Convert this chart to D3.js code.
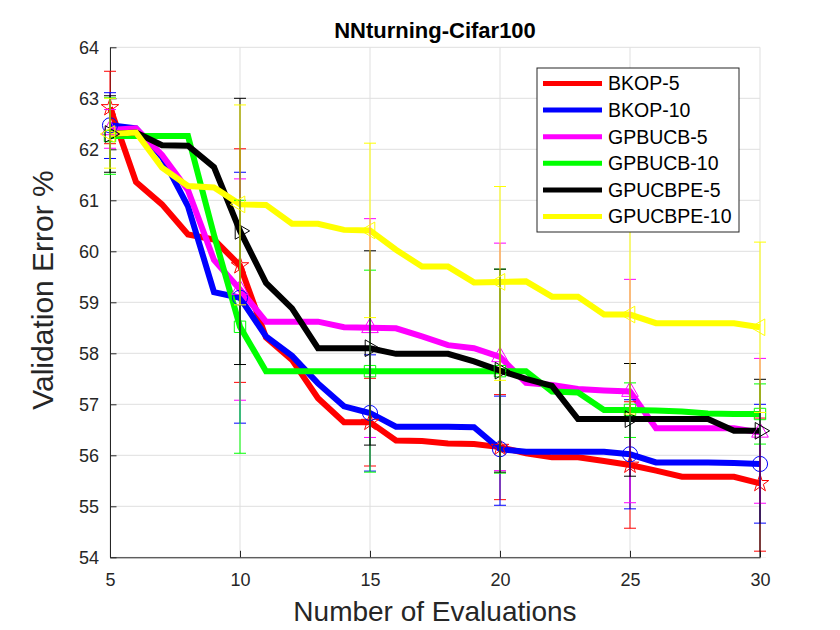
<!DOCTYPE html>
<html><head><meta charset="utf-8">
<script src="https://cdn.jsdelivr.net/npm/d3@7"></script>
<style>body{margin:0;background:#fff} svg{display:block} text{font-family:"Liberation Sans",Arial,Helvetica,sans-serif}</style>
</head><body><svg id="c" width="840" height="630"></svg>
<script>
// ---- data ----
const evals = [5,6,7,8,9,10,11,12,13,14,15,16,17,18,19,20,21,22,23,24,25,26,27,28,29,30];
const markerEvals = [5,10,15,20,25,30];
const xTicks = [5,10,15,20,25,30];
const yTicks = [54,55,56,57,58,59,60,61,62,63,64];
const seriesNames = ["BKOP-5","BKOP-10","GPBUCB-5","GPBUCB-10","GPUCBPE-5","GPUCBPE-10"];
const seriesColors = ["#ff0000","#0000ff","#ff00ff","#00ff00","#000000","#ffff00"];
const seriesMarkers = ["star","circle","triUp","square","triRight","triLeft"];

const bkop5 = [62.82,61.36,60.92,60.33,60.23,59.72,58.31,57.87,57.12,56.65,56.65,56.29,56.28,56.23,56.22,56.16,56.04,55.96,55.96,55.89,55.81,55.70,55.58,55.58,55.58,55.45];
const bkop10 = [62.47,62.41,61.85,60.88,59.20,59.09,58.33,57.95,57.41,56.96,56.83,56.56,56.56,56.56,56.55,56.12,56.07,56.07,56.07,56.07,56.02,55.86,55.86,55.86,55.85,55.83];
const gpbucb5 = [62.38,62.41,61.89,61.20,59.83,59.25,58.62,58.62,58.62,58.51,58.50,58.49,58.33,58.16,58.10,57.93,57.42,57.38,57.30,57.27,57.25,56.53,56.53,56.53,56.53,56.45];
const gpbucb10 = [62.26,62.26,62.26,62.26,60.32,58.52,57.65,57.65,57.65,57.65,57.65,57.65,57.65,57.65,57.65,57.65,57.65,57.25,57.23,56.89,56.89,56.88,56.86,56.82,56.81,56.81];
const gpucbpe5 = [62.30,62.33,62.08,62.07,61.65,60.40,59.38,58.88,58.10,58.10,58.10,57.99,57.99,57.99,57.84,57.66,57.50,57.36,56.71,56.71,56.71,56.71,56.71,56.71,56.48,56.48];
const gpucbpe10 = [62.30,62.33,61.64,61.28,61.25,60.92,60.91,60.54,60.54,60.42,60.41,60.03,59.70,59.70,59.39,59.40,59.41,59.11,59.11,58.76,58.76,58.59,58.59,58.59,58.59,58.51];

// error bar half-lengths at markerEvals (below, above)
const bkop5ErrLo = [0.71,2.29,0.86,1.03,1.24,1.33];
const bkop5ErrHi = [0.71,2.29,0.86,1.03,1.24,1.28];
const bkop10ErrLo = [0.65,2.46,1.14,1.10,1.07,1.16];
const bkop10ErrHi = [0.64,2.46,1.14,1.04,1.07,1.17];
const gpbucb5ErrLo = [0.36,2.17,2.15,2.23,2.18,1.39];
const gpbucb5ErrHi = [0.40,2.17,2.14,2.23,2.20,1.45];
const gpbucb10ErrLo = [0.75,2.48,1.98,2.00,0.54,0.59];
const gpbucb10ErrHi = [0.75,2.48,1.98,2.00,0.53,0.59];
const gpucbpe5ErrLo = [0.75,2.62,1.90,1.99,1.12,2.50];
const gpucbpe5ErrHi = [0.75,2.60,1.91,1.99,1.09,1.01];
const gpucbpe10ErrLo = [0.67,1.97,1.71,1.93,1.95,1.67];
const gpucbpe10ErrHi = [0.70,1.95,1.71,1.87,1.95,1.67];

const seriesValues = [bkop5,bkop10,gpbucb5,gpbucb10,gpucbpe5,gpucbpe10];
const seriesErrLo = [bkop5ErrLo,bkop10ErrLo,gpbucb5ErrLo,gpbucb10ErrLo,gpucbpe5ErrLo,gpucbpe10ErrLo];
const seriesErrHi = [bkop5ErrHi,bkop10ErrHi,gpbucb5ErrHi,gpbucb10ErrHi,gpucbpe5ErrHi,gpucbpe10ErrHi];

// ---- layout ----
const svg = d3.select("#c");
const L = 110, R = 760, T = 47.3, B = 557.3;
const x = d3.scaleLinear().domain([5,30]).range([L,R]);
const y = d3.scaleLinear().domain([54,64]).range([B,T]);
const axisColor = "#262626";

svg.append("defs").append("clipPath").attr("id","pc")
  .append("rect").attr("x",L-20).attr("y",T).attr("width",R-L+40).attr("height",B-T);

// grid
const grid = svg.append("g");
grid.selectAll(".gx").data(xTicks).enter().append("line")
  .attr("x1",d=>x(d)).attr("x2",d=>x(d)).attr("y1",T).attr("y2",B)
  .attr("stroke","#dfdfdf").attr("stroke-width",1);
grid.selectAll(".gy").data(yTicks).enter().append("line")
  .attr("x1",L).attr("x2",R).attr("y1",d=>y(d)).attr("y2",d=>y(d))
  .attr("stroke","#dfdfdf").attr("stroke-width",1);

// axes
const xAxis = d3.axisBottom(x).tickValues(xTicks).tickSizeInner(-6.5).tickSizeOuter(0).tickPadding(16);
const yAxis = d3.axisLeft(y).tickValues(yTicks).tickSizeInner(-6.5).tickSizeOuter(0).tickPadding(11);
const gx = svg.append("g").attr("transform",`translate(0,${B})`).call(xAxis);
const gy = svg.append("g").attr("transform",`translate(${L},0)`).call(yAxis);
[gx,gy].forEach(g=>{
  g.select(".domain").attr("stroke",axisColor).attr("stroke-width",1);
  g.selectAll(".tick line").attr("stroke",axisColor);
  g.selectAll(".tick text").attr("fill",axisColor).style("font-size","18px")
   .style("font-family",'"Liberation Sans",Arial,sans-serif');
});
gx.selectAll(".tick text").attr("dy","0.71em");
gy.selectAll(".tick text").attr("dy","0.35em");

// lines
const line = d3.line().x((d,i)=>x(evals[i])).y(d=>y(d));
seriesValues.forEach((vals,si)=>{
  svg.append("path").datum(vals).attr("d",line)
    .attr("fill","none").attr("stroke",seriesColors[si]).attr("stroke-width",6)
    .attr("stroke-linejoin","miter").attr("stroke-miterlimit",3);
});

// markers and error bars
function markerPath(kind){
  if(kind==="star") return d3.symbol().type(d3.symbolStar).size(95)();
  if(kind==="circle") return d3.symbol().type(d3.symbolCircle).size(180)();
  if(kind==="square") return d3.symbol().type(d3.symbolSquare).size(130)();
  return d3.symbol().type(d3.symbolTriangle).size(120)();
}
const rot = {triUp:0, triRight:90, triLeft:-90};
seriesValues.forEach((vals,si)=>{
  const g = svg.append("g");
  const eb = g.append("g").attr("clip-path","url(#pc)");
  markerEvals.forEach((n,k)=>{
    const v = vals[evals.indexOf(n)];
    const lo = v - seriesErrLo[si][k], hi = v + seriesErrHi[si][k];
    const cx = x(n), col = seriesColors[si];
    eb.append("line").attr("x1",cx).attr("x2",cx).attr("y1",y(lo)).attr("y2",y(hi))
      .attr("stroke",col).attr("stroke-width",1);
    [lo,hi].forEach(e=>{
      eb.append("line").attr("x1",cx-6).attr("x2",cx+6).attr("y1",y(e)).attr("y2",y(e))
        .attr("stroke",col).attr("stroke-width",1);
    });
    const kind = seriesMarkers[si];
    g.append("path").attr("d",markerPath(kind))
      .attr("transform",`translate(${cx},${y(v)}) rotate(${rot[kind]||0})`)
      .attr("fill","none").attr("stroke",col).attr("stroke-width",1);
  });
});

// title & labels
svg.append("text").attr("x",(L+R)/2).attr("y",38).attr("text-anchor","middle")
  .style("font-size","22px").style("font-weight","bold").attr("fill","#000").text("NNturning-Cifar100");
svg.append("text").attr("x",(L+R)/2).attr("y",621).attr("text-anchor","middle")
  .style("font-size","28px").attr("fill",axisColor).text("Number of Evaluations");
svg.append("text").attr("transform",`translate(53,290) rotate(-90)`).attr("text-anchor","middle")
  .style("font-size","30px").attr("fill",axisColor).text("Validation Error %");

// legend
const lg = svg.append("g");
lg.append("rect").attr("x",537).attr("y",68).attr("width",202).attr("height",164)
  .attr("fill","#fff").attr("stroke",axisColor).attr("stroke-width",1);
seriesNames.forEach((nm,i)=>{
  const cy = 83.5 + i*26.6;
  lg.append("line").attr("x1",543).attr("x2",602).attr("y1",cy).attr("y2",cy)
    .attr("stroke",seriesColors[i]).attr("stroke-width",5);
  lg.append("text").attr("x",608).attr("y",cy).attr("dy","0.35em")
    .style("font-size","19.5px").attr("fill","#000").text(nm);
});
</script></body></html>
